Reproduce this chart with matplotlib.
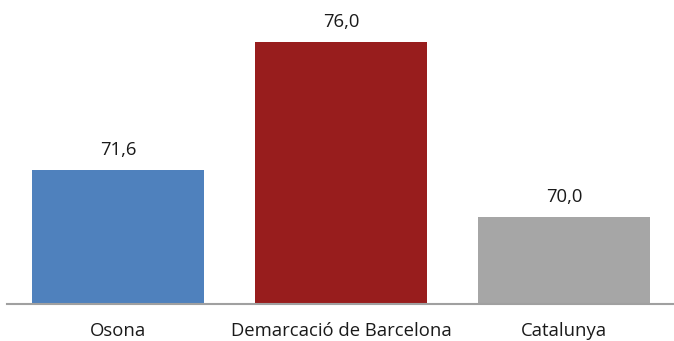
import matplotlib
matplotlib.use("Agg")
import matplotlib.pyplot as plt

categories = ["Osona", "Demarcació de Barcelona", "Catalunya"]
values = [71.6, 76.0, 70.0]
value_labels = ["71,6", "76,0", "70,0"]
colors = ["#4F81BD", "#981D1D", "#A6A6A6"]

plt.rcParams['font.family'] = ['Open Sans', 'DejaVu Sans']

fig = plt.figure(figsize=(6.74, 3.41), dpi=100)
ax = fig.add_axes([6.5/674, 1 - 304/341, 669/674, 291/341])
x = list(range(len(categories)))
ax.bar(x, [v - 67 for v in values], bottom=67, width=0.772, color=colors)
ax.set_xlim(-0.5, 2.5)
ax.set_ylim(67, 77)
for xi, v, lab in zip(x, values, value_labels):
    ax.annotate(lab, (xi, v), xytext=(0, 8), textcoords="offset points",
                ha="center", va="bottom", fontsize=13.3, color="#1a1a1a")
ax.set_xticks(x)
ax.set_xticklabels(categories, fontsize=13.3, color="#1a1a1a")
ax.tick_params(axis="x", length=0, pad=13)
ax.set_yticks([])
for s in ["top", "right", "left"]:
    ax.spines[s].set_visible(False)
ax.spines["bottom"].set_color("#A0A0A0")
ax.spines["bottom"].set_linewidth(1.5)
fig.savefig("out.png", dpi=100)
